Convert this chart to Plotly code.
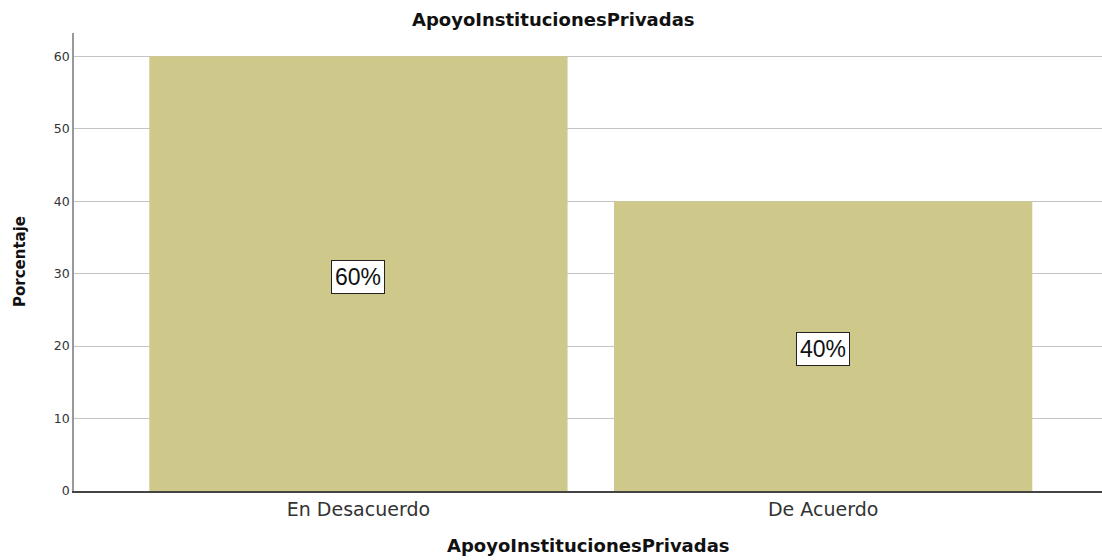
import plotly.graph_objects as go

categories = ["En Desacuerdo", "De Acuerdo"]
values = [60, 40]
labels = ["60%", "40%"]
y_ticks = [0, 10, 20, 30, 40, 50, 60]
title_text = "ApoyoInstitucionesPrivadas"
y_title = "Porcentaje"

W, H = 1102, 560
ML, MR, MT, MB = 74, 0, 33, 560 - 491

fig = go.Figure()
fig.add_trace(go.Bar(
    x=categories, y=values, width=0.9,
    marker=dict(color="#cfc88b", line=dict(width=0)),
    hoverinfo="skip",
))

for c, v, t in zip(categories, values, labels):
    fig.add_annotation(
        x=c, y=v / 2, yshift=-3, text=t, showarrow=False,
        font=dict(family="Arial, Liberation Sans", size=23, color="#111111"),
        bgcolor="white", bordercolor="#222222", borderwidth=1, borderpad=3,
    )

bold_font = dict(family="DejaVu Sans", size=18, color="#111111")
plot_w = W - ML - MR
# chart title
fig.add_annotation(xref="paper", yref="paper", x=(553 - ML) / plot_w,
                   y=1, yshift=(MT - 19), yanchor="middle", xanchor="center",
                   text="<b>" + title_text + "</b>", showarrow=False, font=bold_font)
# x-axis title
fig.add_annotation(xref="paper", yref="paper", x=0.5, y=0, yshift=-(545 - 491),
                   yanchor="middle", xanchor="center",
                   text="<b>" + title_text + "</b>", showarrow=False, font=bold_font)
# y-axis title
fig.add_annotation(xref="paper", yref="paper", x=0, xshift=-(ML - 20), y=0.5,
                   xanchor="center", yanchor="middle", textangle=-90,
                   text="<b>" + y_title + "</b>", showarrow=False,
                   font=dict(family="DejaVu Sans", size=15, color="#111111"))

fig.update_layout(
    width=W, height=H,
    margin=dict(l=ML, r=MR, t=MT, b=MB),
    paper_bgcolor="white", plot_bgcolor="white",
    showlegend=False,
    bargap=0.1,
    font=dict(family="DejaVu Sans", color="#333333"),
    xaxis=dict(
        type="category", range=[-0.612, 1.6], automargin=False,
        showgrid=False, showline=True, linecolor="#444444", linewidth=1.5,
        ticks="", tickfont=dict(size=19, color="#333333"),
        fixedrange=True,
    ),
    yaxis=dict(
        range=[0, 63.2], tickvals=y_ticks, automargin=False,
        showgrid=True, gridcolor="#c4c4c4", gridwidth=1,
        showline=True, linecolor="#999999", linewidth=1.5,
        ticks="", tickfont=dict(size=12.5, color="#333333"),
        zeroline=False,
        fixedrange=True,
    ),
)

fig.write_html(
    "out.html",
    config={"displayModeBar": False},
    post_script="document.body.style.margin='0';document.body.style.overflow='hidden';",
)
